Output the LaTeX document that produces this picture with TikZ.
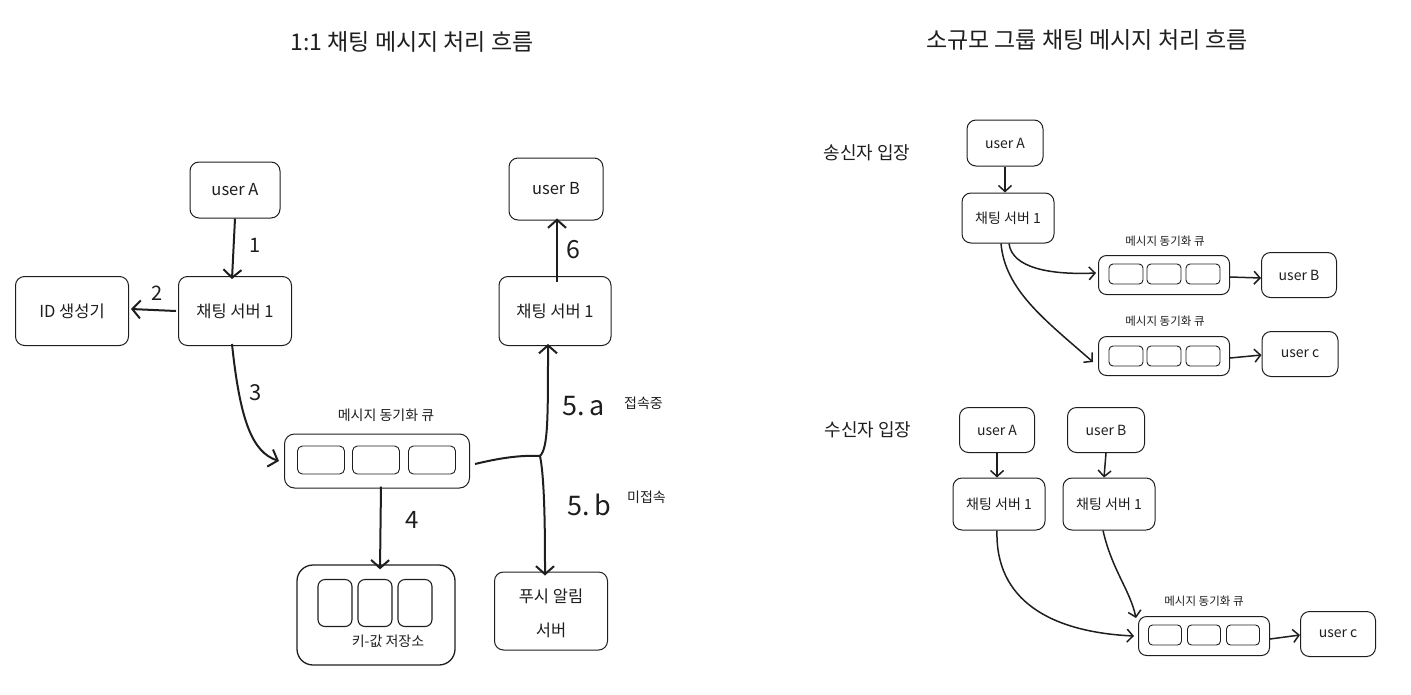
\documentclass[tikz,border=0pt]{standalone}
\usepackage{fontspec}
\setmainfont{Noto Sans CJK KR}
\usetikzlibrary{arrows.meta}
\definecolor{ink}{HTML}{1E1E1E}
\tikzset{
  box/.style={draw=ink, line width=1pt, rounded corners=9pt, inner sep=0pt, text=ink, align=center},
  cell/.style={draw=ink, line width=0.9pt, rounded corners=5pt, inner sep=0pt},
  lbl/.style={text=ink, inner sep=0pt},
  bigarrow/.style={draw=ink, line width=2pt, -{Straight Barb[length=8pt,width=18pt,line width=2pt]}},
  smallarrow/.style={draw=ink, line width=1.5pt, -{Straight Barb[length=6pt,width=13pt,line width=1.5pt]}},
  plainline/.style={draw=ink, line width=2pt},
}
\begin{document}
\begin{tikzpicture}[x=1pt,y=-1pt]
\useasboundingbox (0,0) rectangle (1411,694);
% titles
\node[lbl, font=\fontsize{23}{26}\selectfont] (t1) at (412,42) {1:1 채팅 메시지 처리 흐름};
\node[lbl, font=\fontsize{23}{26}\selectfont] (t2) at (1087,40) {소규모 그룹 채팅 메시지 처리 흐름};

% ---------- left: 1:1 ----------
\begin{scope}[font=\fontsize{16.5}{19}\selectfont]
\node[box, minimum width=90pt, minimum height=56pt] (uA) at (235,190) {user A};
\node[box, minimum width=113pt, minimum height=69pt] (cs1) at (235,311) {채팅 서버 1};
\node[box, minimum width=113pt, minimum height=69pt] (idg) at (72,311) {ID 생성기};
\node[box, minimum width=94pt, minimum height=62pt] (uB) at (556,189) {user B};
\node[box, minimum width=112pt, minimum height=69pt] (cs2) at (555,311) {채팅 서버 1};
\node[box, minimum width=113pt, minimum height=78pt] (push) at (551,611) {};
\node[lbl] (pusht1) at (551,596) {푸시 알림};
\node[lbl] (pusht2) at (551,630) {서버};
\end{scope}

\node[box, minimum width=185pt, minimum height=54pt, rounded corners=10pt] (q) at (377,461) {};
\node[cell, minimum width=47pt, minimum height=28pt] (qc1) at (321,460) {};
\node[cell, minimum width=47pt, minimum height=28pt] (qc2) at (376,460) {};
\node[cell, minimum width=47pt, minimum height=28pt] (qc3) at (432,460) {};
\node[lbl, font=\fontsize{14}{16}\selectfont] (ql) at (386,415) {메시지 동기화 큐};

\node[box, line width=1.3pt, minimum width=158pt, minimum height=100pt, rounded corners=16pt] (kv) at (376,615) {};
\node[cell, line width=1.1pt, minimum width=34pt, minimum height=47pt, rounded corners=7pt] (kc1) at (335,603) {};
\node[cell, line width=1.1pt, minimum width=34pt, minimum height=47pt, rounded corners=7pt] (kc2) at (375,603) {};
\node[cell, line width=1.1pt, minimum width=34pt, minimum height=47pt, rounded corners=7pt] (kc3) at (415,603) {};
\node[lbl, font=\fontsize{14}{16}\selectfont] (kvl) at (388,641) {키-값 저장소};

% arrows left
\draw[bigarrow] ([xshift=0pt]uA.south) -- ([xshift=-3pt,yshift=-3pt]cs1.north);
\node[lbl, font=\fontsize{20}{22}\selectfont] (n1) at (255,245) {1};
\draw[bigarrow] ([xshift=-2pt]cs1.west) -- ([xshift=2pt,yshift=2pt]idg.east);
\node[lbl, font=\fontsize{20}{22}\selectfont] (n2) at (157,293) {2};
\draw[bigarrow] ([xshift=2pt,yshift=-6pt]cs2.north) -- ([xshift=1pt,yshift=2pt]uB.south);
\node[lbl, font=\fontsize{25}{27}\selectfont] (n6) at (573,250) {6};
\draw[bigarrow] ([xshift=-3pt,yshift=2pt]cs1.south) .. controls (240,420) and (252,452) .. ([xshift=-5pt]q.west);
\node[lbl, font=\fontsize{22}{24}\selectfont] (n3) at (256,393) {3};
\draw[bigarrow] ([xshift=4pt,yshift=2pt]q.south) -- ([xshift=4pt,yshift=-5pt]kv.north);
\node[lbl, font=\fontsize{24}{26}\selectfont] (n4) at (412,520) {4};
\coordinate (j) at (540,456);
\draw[plainline] ([xshift=5pt,yshift=-3pt]q.east) .. controls (500,458) and (520,455) .. (j);
\draw[bigarrow] (j) .. controls (548,448) and (548,420) .. ([xshift=-7pt,yshift=2pt]cs2.south);
\draw[bigarrow] (j) .. controls (545,480) and (545,540) .. ([xshift=-6pt,yshift=-4pt]push.north);
\node[lbl, font=\fontsize{27}{29}\selectfont, anchor=west] (n5a) at (562,406) {5.\,a};
\node[lbl, font=\fontsize{14}{16}\selectfont, anchor=west] (n5at) at (624,403) {접속중};
\node[lbl, font=\fontsize{27}{29}\selectfont, anchor=west] (n5b) at (567,505) {5.\,b};
\node[lbl, font=\fontsize{14}{16}\selectfont, anchor=west] (n5bt) at (627,497) {미접속};

% ---------- right: sender ----------
\node[lbl, font=\fontsize{18}{20}\selectfont] (snd) at (867,153) {송신자 입장};
\begin{scope}[font=\fontsize{14}{16}\selectfont]
\node[box, minimum width=76pt, minimum height=46pt] (suA) at (1005,143) {user A};
\node[box, minimum width=92pt, minimum height=50pt] (scs) at (1008,218) {채팅 서버 1};
\node[box, minimum width=75pt, minimum height=45pt] (suB) at (1299,275) {user B};
\node[box, minimum width=76pt, minimum height=45pt] (suC) at (1300,354) {user c};
\end{scope}
\node[box, minimum width=131pt, minimum height=39pt, rounded corners=8pt] (sq1) at (1164,275) {};
\node[cell, minimum width=34pt, minimum height=20pt, rounded corners=4pt] (s1c1) at (1126,274) {};
\node[cell, minimum width=34pt, minimum height=20pt, rounded corners=4pt] (s1c2) at (1164,274) {};
\node[cell, minimum width=34pt, minimum height=20pt, rounded corners=4pt] (s1c3) at (1203,274) {};
\node[lbl, font=\fontsize{11.5}{13}\selectfont] (sq1l) at (1165,241) {메시지 동기화 큐};
\node[box, minimum width=131pt, minimum height=39pt, rounded corners=8pt] (sq2) at (1164,356) {};
\node[cell, minimum width=34pt, minimum height=20pt, rounded corners=4pt] (s2c1) at (1126,356) {};
\node[cell, minimum width=34pt, minimum height=20pt, rounded corners=4pt] (s2c2) at (1164,356) {};
\node[cell, minimum width=34pt, minimum height=20pt, rounded corners=4pt] (s2c3) at (1203,356) {};
\node[lbl, font=\fontsize{11.5}{13}\selectfont] (sq2l) at (1165,321) {메시지 동기화 큐};

\draw[smallarrow] (suA.south) -- ([xshift=-3pt]scs.north);
\draw[smallarrow] ([yshift=-2pt]sq1.east) -- ([yshift=-3pt]suB.west);
\draw[smallarrow] ([yshift=-2pt]sq2.east) -- ([yshift=-1pt]suC.west);
\draw[smallarrow] ([xshift=1pt]scs.south) .. controls (1012,268) and (1050,275) .. ([xshift=-2pt,yshift=2pt]sq1.west);
\draw[smallarrow] ([xshift=-7pt]scs.south) .. controls (1005,290) and (1045,320) .. ([xshift=-5pt,yshift=-6pt]sq2.west);

% ---------- right: receiver ----------
\node[lbl, font=\fontsize{18}{20}\selectfont] (rcv) at (868,430) {수신자 입장};
\begin{scope}[font=\fontsize{14}{16}\selectfont]
\node[box, minimum width=75pt, minimum height=45pt] (rA) at (997,430) {user A};
\node[box, minimum width=77pt, minimum height=45pt] (rB) at (1106,430) {user B};
\node[box, minimum width=92pt, minimum height=52pt] (rcsA) at (999,504) {채팅 서버 1};
\node[box, minimum width=92pt, minimum height=52pt] (rcsB) at (1109,504) {채팅 서버 1};
\node[box, minimum width=75pt, minimum height=45pt] (rC) at (1338,634) {user c};
\end{scope}
\node[box, minimum width=131pt, minimum height=39pt, rounded corners=8pt] (rq) at (1204,636) {};
\node[cell, minimum width=33pt, minimum height=20pt, rounded corners=4pt] (rc1) at (1165,635) {};
\node[cell, minimum width=33pt, minimum height=20pt, rounded corners=4pt] (rc2) at (1204,635) {};
\node[cell, minimum width=33pt, minimum height=20pt, rounded corners=4pt] (rc3) at (1243,635) {};
\node[lbl, font=\fontsize{11.5}{13}\selectfont] (rql) at (1204,601) {메시지 동기화 큐};

\draw[smallarrow] (rA.south) -- ([xshift=-2pt]rcsA.north);
\draw[smallarrow] (rB.south) -- ([xshift=-5pt]rcsB.north);
\draw[smallarrow] ([yshift=-3pt]rq.east) -- ([yshift=-1pt]rC.west);
\draw[smallarrow] ([xshift=-2pt]rcsA.south) .. controls (995,600) and (1050,632) .. ([xshift=-4pt]rq.west);
\draw[smallarrow] ([xshift=-6pt]rcsB.south) .. controls (1112,570) and (1130,590) .. ([xshift=-2pt,yshift=-2pt]rq.north west);
\end{tikzpicture}
\end{document}
